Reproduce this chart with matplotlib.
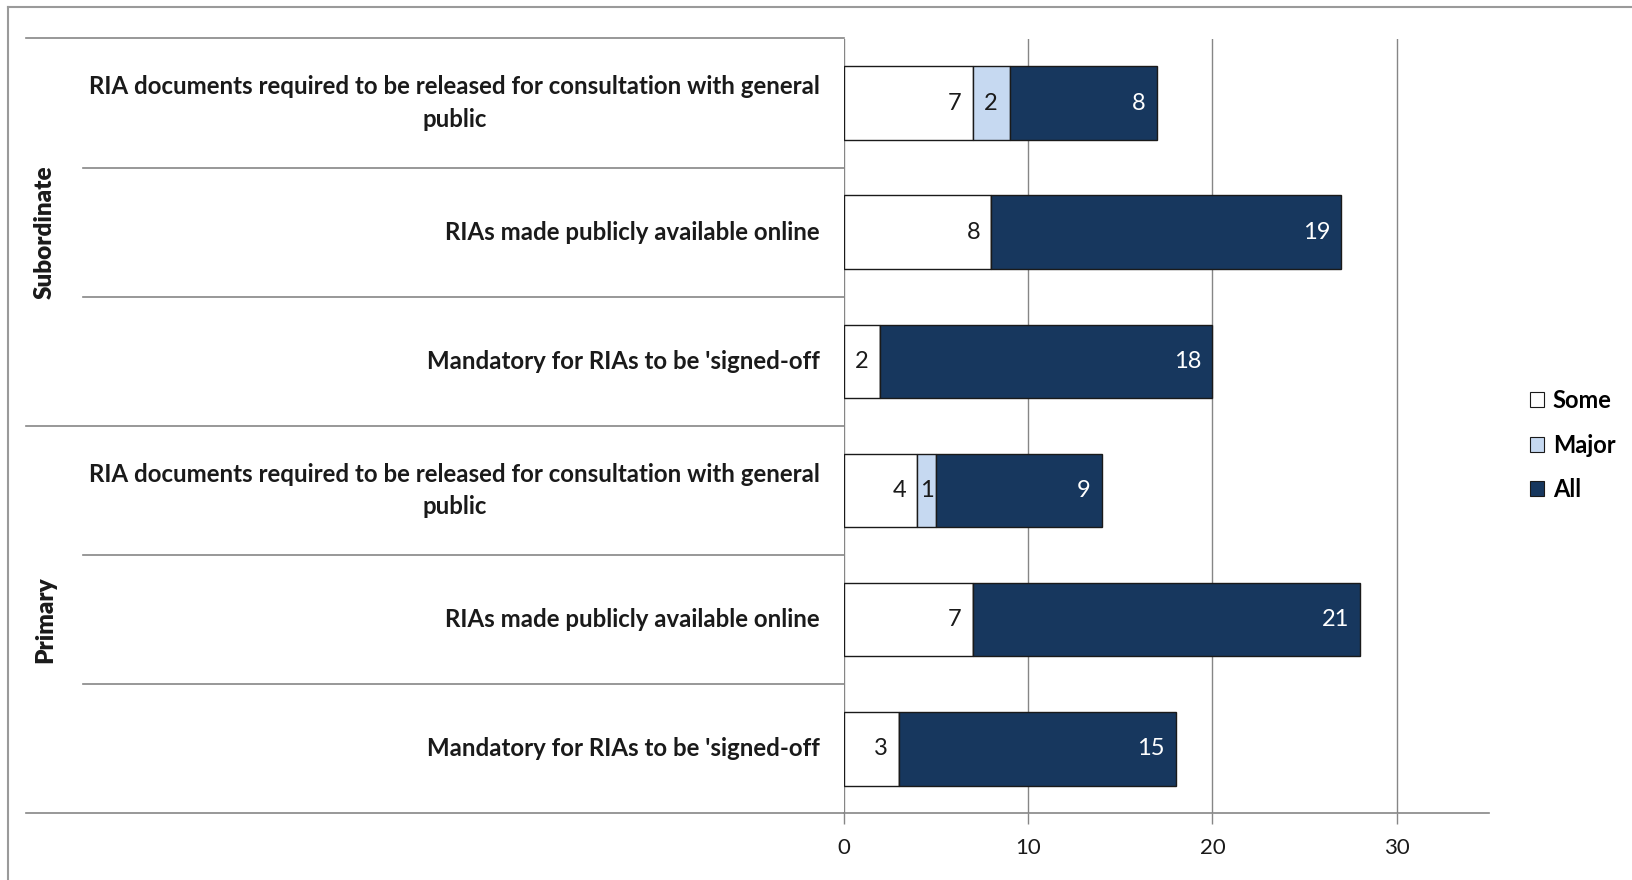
import matplotlib.pyplot as plt
from matplotlib.lines import Line2D
from matplotlib.patches import Patch

plt.rcParams['font.family'] = ['Lato', 'DejaVu Sans']

groups = ['Subordinate', 'Primary']
categories = [
    'RIA documents required to be released for consultation with general\npublic',
    'RIAs made publicly available online',
    "Mandatory for RIAs to be 'signed-off",
    'RIA documents required to be released for consultation with general\npublic',
    'RIAs made publicly available online',
    "Mandatory for RIAs to be 'signed-off",
]
some = [7, 8, 2, 4, 7, 3]
major = [2, 0, 0, 1, 0, 0]
all_ = [8, 19, 18, 9, 21, 15]
series_names = ['Some', 'Major', 'All']
colors = ['#FFFFFF', '#C6D9F1', '#17375E']
xticks = [0, 10, 20, 30]

W, H = 1633, 880
fig = plt.figure(figsize=(W / 100, H / 100), dpi=100)

x0_px, x1_px = 843.6, 1489
top_px, bot_px = 38.5, 813.4
ax = fig.add_axes([x0_px / W, 1 - bot_px / H, (x1_px - x0_px) / W, (bot_px - top_px) / H])

grid_c = '#868686'
rows = list(range(len(categories)))
left = [0] * len(rows)
for vals, name, col in zip([some, major, all_], series_names, colors):
    ax.barh(rows, vals, left=left, height=0.57, color=col, edgecolor='#1a1a1a',
            linewidth=1.0, zorder=3, label=name)
    for r, v, l in zip(rows, vals, left):
        if v == 0:
            continue
        tc = 'white' if col == colors[2] else '#1a1a1a'
        if v <= 2:
            ax.text(l + v / 2, r, str(v), ha='center', va='center', fontsize=17, color=tc, zorder=4)
        else:
            ax.annotate(str(v), (l + v, r), xytext=(-8, 0), textcoords='offset points',
                        ha='right', va='center', fontsize=17, color=tc, zorder=4)
    left = [a + b for a, b in zip(left, vals)]

ax.set_xlim(0, 35)
ax.set_ylim(len(rows) - 0.5, -0.5)
ax.set_yticks([])
ax.set_xticks(xticks)
ax.set_xticklabels([str(t) for t in xticks], fontsize=16, color='#1a1a1a')
ax.tick_params(axis='x', length=8, width=1, color=grid_c, pad=10)
for t in xticks:
    ax.axvline(t, color=grid_c, linewidth=1.0, zorder=1)
for s in ['top', 'right', 'left']:
    ax.spines[s].set_visible(False)
ax.spines['bottom'].set_color(grid_c)
ax.spines['bottom'].set_linewidth(1.2)

# row labels and separators in the left area
row_h = (bot_px - top_px) / len(rows)
for i, lab in enumerate(categories):
    yc = top_px + row_h * (i + 0.5)
    fig.text(820 / W, 1 - yc / H, lab, ha='right', va='center', multialignment='center',
             fontsize=17.3, fontweight='bold', color='#1a1a1a', linespacing=1.5)
for i in range(len(rows) + 1):
    y = top_px + row_h * i
    xs = 26 if i % 3 == 0 else 83
    fig.add_artist(Line2D([xs / W, x0_px / W], [1 - y / H, 1 - y / H], color=grid_c, linewidth=1.2))
for g, name in enumerate(groups):
    yc = top_px + row_h * (3 * g + 1.5)
    fig.text(45 / W, 1 - yc / H, name, rotation=90, ha='center', va='center',
             fontsize=17.5, fontweight='heavy', color='#1a1a1a')

# outer border
fig.add_artist(Line2D([8 / W, 8 / W], [0, 1 - 7 / H], color='#9a9a9a', linewidth=1.5))
fig.add_artist(Line2D([8 / W, 1], [1 - 7 / H, 1 - 7 / H], color='#9a9a9a', linewidth=1.5))

handles = [Patch(facecolor=c, edgecolor='#1a1a1a', linewidth=0.8) for c in colors]
fig.legend(handles, series_names, loc='center left', bbox_to_anchor=(1509 / W, 1 - 445 / H),
           frameon=False, prop={'weight': 'bold', 'size': 17},
           handlelength=0.6, handleheight=0.6, handletextpad=0.35, labelspacing=0.9)

fig.savefig('out.png', dpi=100)
